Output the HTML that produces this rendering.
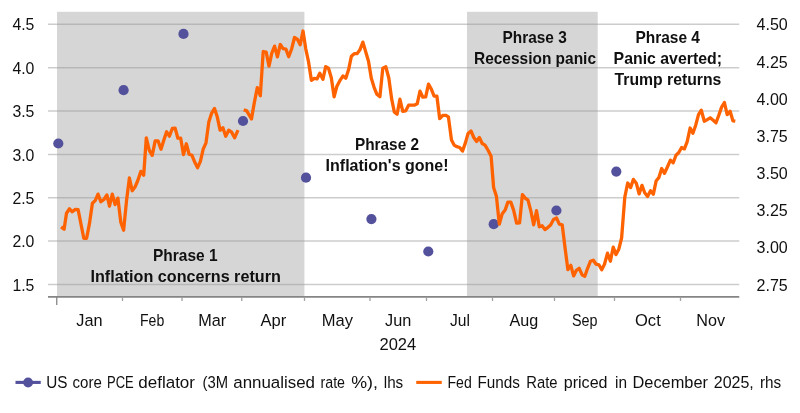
<!DOCTYPE html>
<html lang="en">
<head>
<meta charset="utf-8">
<title>Fed Funds pricing vs core PCE</title>
<style>
html,body{margin:0;padding:0;background:#fff;}
body{width:800px;height:413px;overflow:hidden;}
svg{display:block;}
svg text{font-family:"Liberation Sans",sans-serif;fill:#101010;}
.b{font-weight:bold;}
</style>
</head>
<body>
<svg width="800" height="413" viewBox="0 0 800 413">
<rect width="800" height="413" fill="#ffffff"/>
<line x1="48" x2="739.25" y1="24.30" y2="24.30" stroke="#000" stroke-opacity="0.2" stroke-width="1.5"/>
<line x1="48" x2="739.25" y1="67.66" y2="67.66" stroke="#000" stroke-opacity="0.2" stroke-width="1.5"/>
<line x1="48" x2="739.25" y1="111.02" y2="111.02" stroke="#000" stroke-opacity="0.2" stroke-width="1.5"/>
<line x1="48" x2="739.25" y1="154.38" y2="154.38" stroke="#000" stroke-opacity="0.2" stroke-width="1.5"/>
<line x1="48" x2="739.25" y1="197.74" y2="197.74" stroke="#000" stroke-opacity="0.2" stroke-width="1.5"/>
<line x1="48" x2="739.25" y1="241.10" y2="241.10" stroke="#000" stroke-opacity="0.2" stroke-width="1.5"/>
<line x1="48" x2="739.25" y1="284.46" y2="284.46" stroke="#000" stroke-opacity="0.2" stroke-width="1.5"/>
<rect x="57.0" y="11.8" width="247.4" height="284.3" fill="#989898" fill-opacity="0.4"/>
<rect x="467" y="11.8" width="130.7" height="284.3" fill="#989898" fill-opacity="0.4"/>
<line x1="48" x2="739.25" y1="296.9" y2="296.9" stroke="#858585" stroke-width="1.6"/>
<line x1="56.75" x2="56.75" y1="296.9" y2="305.1" stroke="#858585" stroke-width="1.3"/>
<line x1="122.5" x2="122.5" y1="296.9" y2="300.9" stroke="#a0a0a0" stroke-width="1.3"/>
<line x1="182" x2="182" y1="296.9" y2="300.9" stroke="#a0a0a0" stroke-width="1.3"/>
<line x1="241.75" x2="241.75" y1="296.9" y2="300.9" stroke="#a0a0a0" stroke-width="1.3"/>
<line x1="304.5" x2="304.5" y1="296.9" y2="300.9" stroke="#a0a0a0" stroke-width="1.3"/>
<line x1="370" x2="370" y1="296.9" y2="300.9" stroke="#a0a0a0" stroke-width="1.3"/>
<line x1="426.5" x2="426.5" y1="296.9" y2="300.9" stroke="#a0a0a0" stroke-width="1.3"/>
<line x1="492.5" x2="492.5" y1="296.9" y2="300.9" stroke="#a0a0a0" stroke-width="1.3"/>
<line x1="554.5" x2="554.5" y1="296.9" y2="300.9" stroke="#a0a0a0" stroke-width="1.3"/>
<line x1="614.5" x2="614.5" y1="296.9" y2="300.9" stroke="#a0a0a0" stroke-width="1.3"/>
<line x1="680.5" x2="680.5" y1="296.9" y2="300.9" stroke="#a0a0a0" stroke-width="1.3"/>
<text x="34.4" y="30.4" font-size="16.5" text-anchor="end" textLength="22" lengthAdjust="spacingAndGlyphs">4.5</text>
<text x="34.4" y="73.8" font-size="16.5" text-anchor="end" textLength="22" lengthAdjust="spacingAndGlyphs">4.0</text>
<text x="34.4" y="117.1" font-size="16.5" text-anchor="end" textLength="22" lengthAdjust="spacingAndGlyphs">3.5</text>
<text x="34.4" y="160.5" font-size="16.5" text-anchor="end" textLength="22" lengthAdjust="spacingAndGlyphs">3.0</text>
<text x="34.4" y="203.8" font-size="16.5" text-anchor="end" textLength="22" lengthAdjust="spacingAndGlyphs">2.5</text>
<text x="34.4" y="247.2" font-size="16.5" text-anchor="end" textLength="22" lengthAdjust="spacingAndGlyphs">2.0</text>
<text x="34.4" y="290.6" font-size="16.5" text-anchor="end" textLength="22" lengthAdjust="spacingAndGlyphs">1.5</text>
<text x="756.6" y="30.4" font-size="16.5" textLength="31.2" lengthAdjust="spacingAndGlyphs">4.50</text>
<text x="756.6" y="67.6" font-size="16.5" textLength="31.2" lengthAdjust="spacingAndGlyphs">4.25</text>
<text x="756.6" y="104.7" font-size="16.5" textLength="31.2" lengthAdjust="spacingAndGlyphs">4.00</text>
<text x="756.6" y="141.9" font-size="16.5" textLength="31.2" lengthAdjust="spacingAndGlyphs">3.75</text>
<text x="756.6" y="179.1" font-size="16.5" textLength="31.2" lengthAdjust="spacingAndGlyphs">3.50</text>
<text x="756.6" y="216.2" font-size="16.5" textLength="31.2" lengthAdjust="spacingAndGlyphs">3.25</text>
<text x="756.6" y="253.4" font-size="16.5" textLength="31.2" lengthAdjust="spacingAndGlyphs">3.00</text>
<text x="756.6" y="290.6" font-size="16.5" textLength="31.2" lengthAdjust="spacingAndGlyphs">2.75</text>
<text x="76.25" y="325.7" font-size="17.2" textLength="26.25" lengthAdjust="spacingAndGlyphs">Jan</text>
<text x="140" y="325.7" font-size="17.2" textLength="24.25" lengthAdjust="spacingAndGlyphs">Feb</text>
<text x="198.25" y="325.7" font-size="17.2" textLength="28.0" lengthAdjust="spacingAndGlyphs">Mar</text>
<text x="260.5" y="325.7" font-size="17.2" textLength="25.75" lengthAdjust="spacingAndGlyphs">Apr</text>
<text x="321.75" y="325.7" font-size="17.2" textLength="31.25" lengthAdjust="spacingAndGlyphs">May</text>
<text x="385" y="325.7" font-size="17.2" textLength="26.25" lengthAdjust="spacingAndGlyphs">Jun</text>
<text x="450" y="325.7" font-size="17.2" textLength="20" lengthAdjust="spacingAndGlyphs">Jul</text>
<text x="509.5" y="325.7" font-size="17.2" textLength="28.75" lengthAdjust="spacingAndGlyphs">Aug</text>
<text x="572" y="325.7" font-size="17.2" textLength="25.5" lengthAdjust="spacingAndGlyphs">Sep</text>
<text x="635" y="325.7" font-size="17.2" textLength="25.75" lengthAdjust="spacingAndGlyphs">Oct</text>
<text x="696.25" y="325.7" font-size="17.2" textLength="28.75" lengthAdjust="spacingAndGlyphs">Nov</text>
<text x="379.5" y="349.5" font-size="16.5" textLength="36.75" lengthAdjust="spacingAndGlyphs">2024</text>
<circle cx="58.3" cy="143.5" r="5.1" fill="#53509c"/>
<circle cx="123.6" cy="90.2" r="5.1" fill="#53509c"/>
<circle cx="183.5" cy="33.9" r="5.1" fill="#53509c"/>
<circle cx="243.0" cy="121.0" r="5.1" fill="#53509c"/>
<circle cx="306.0" cy="177.7" r="5.1" fill="#53509c"/>
<circle cx="371.4" cy="219.1" r="5.1" fill="#53509c"/>
<circle cx="428.3" cy="251.5" r="5.1" fill="#53509c"/>
<circle cx="493.7" cy="224.2" r="5.1" fill="#53509c"/>
<circle cx="556.4" cy="210.5" r="5.1" fill="#53509c"/>
<circle cx="616.3" cy="171.6" r="5.1" fill="#53509c"/>
<polyline points="61.1,226.9 64.1,229.3 66.5,213.2 69.5,208.8 72.3,211.8 75.1,209.4 78.1,209.6 81.2,225.3 83.8,238.3 86.6,238.3 89.4,223.9 92.4,203.2 95.2,200.6 98.0,194.1 100.9,201.8 103.9,199.5 106.9,194.9 109.5,206.2 112.3,194.1 115.1,204.6 117.9,198.1 120.8,222.3 123.6,230.3 126.6,200.2 129.4,178.0 132.2,190.7 135.0,187.1 137.8,180.5 140.9,171.4 143.7,175.2 146.3,137.8 149.3,150.3 152.2,155.3 155.2,140.8 158.0,140.8 161.0,149.2 163.8,140.2 166.6,131.8 169.4,136.2 172.3,128.5 175.1,128.1 177.9,138.2 180.7,138.2 183.5,154.7 186.3,143.8 189.1,154.3 192.0,155.3 194.8,162.3 197.6,167.7 200.4,161.3 203.2,149.2 206.0,142.8 208.8,122.1 211.7,113.1 214.5,108.4 217.3,117.1 220.1,130.2 222.9,127.7 225.7,136.2 228.7,130.2 231.6,132.2 234.6,137.8 238.0,130.2" fill="none" stroke="#ff6200" stroke-width="3.3" stroke-linejoin="round" stroke-linecap="butt"/>
<polyline points="243.7,109.7 246.7,110.9 249.1,114.9 251.5,118.9 254.3,102.7 257.3,87.6 260.3,95.8 263.2,51.5 266.2,52.1 269.0,66.2 271.8,53.1 274.6,46.1 277.4,56.8 280.3,44.5 283.1,48.7 285.9,49.1 288.7,56.8 291.7,48.7 294.5,37.5 297.3,39.1 300.2,44.7 303.0,31.0 305.8,49.1 308.6,62.2 311.4,80.3 314.2,78.3 317.0,78.9 319.8,73.2 322.9,79.3 325.7,66.6 328.5,68.2 331.3,77.7 334.1,96.8 336.9,86.3 339.7,80.9 343.0,75.9 345.8,78.3 348.6,69.6 351.4,56.2 354.2,53.7 357.0,53.7 359.8,50.1 362.9,42.1 365.7,51.7 368.5,61.2 371.3,78.3 374.1,87.3 376.9,94.3 379.9,96.8 382.8,68.2 385.8,66.8 388.8,78.0 391.7,99.2 394.3,111.9 397.1,114.3 399.9,99.2 402.8,111.3 405.6,110.9 408.6,105.2 411.4,105.2 414.2,105.2 417.2,103.8 420.0,91.2 422.9,97.2 425.7,96.8 428.5,84.1 431.3,89.1 434.1,96.2 436.9,96.2 439.7,118.7 442.8,115.3 445.6,115.3 448.4,116.9 451.5,140.1 454.1,145.1 456.9,146.7 459.7,147.5 462.5,151.1 465.3,143.1 468.1,133.4 471.0,131.0 473.8,137.5 476.6,141.5 479.4,137.5 482.2,143.5 485.0,145.1 488.2,150.5 491.1,156.2 493.6,187.5 496.4,196.2 499.3,224.2 502.1,214.1 505.1,210.1 507.9,202.1 510.8,202.1 513.6,210.1 516.6,223.2 519.6,222.8 522.4,194.6 525.2,198.1 528.0,200.1 530.9,211.1 533.7,224.8 536.5,210.7 539.3,226.8 542.1,225.8 544.9,229.6 547.7,227.6 550.6,225.0 553.5,219.5 556.5,218.0 559.3,224.1 562.2,224.8 565.1,248.2 567.9,269.7 570.8,265.3 573.6,275.9 576.4,270.3 579.2,268.3 582.0,274.7 584.8,276.3 587.6,268.3 590.5,261.2 593.3,260.2 596.1,264.2 598.9,264.8 601.7,269.7 604.5,264.2 607.5,253.2 610.4,261.2 613.2,247.2 616.0,254.6 618.8,249.2 621.6,238.0 624.8,197.1 627.7,183.0 630.6,187.6 633.4,179.4 636.3,183.2 639.1,193.9 642.0,185.4 644.7,192.7 647.6,196.4 650.5,190.8 653.3,194.3 656.1,181.1 658.9,177.5 661.7,168.5 664.5,173.3 667.3,167.2 670.4,160.1 673.2,162.8 676.0,155.2 678.8,152.5 681.6,147.5 684.4,148.9 687.2,141.7 690.1,128.0 692.9,133.2 695.7,125.2 698.5,114.6 701.3,110.2 704.3,121.2 707.3,119.6 710.2,117.8 713.2,120.2 716.0,122.8 718.8,115.2 721.6,107.1 724.4,102.5 727.2,114.6 730.1,111.2 732.9,120.8 735.3,121.2" fill="none" stroke="#ff6200" stroke-width="3.3" stroke-linejoin="round" stroke-linecap="butt"/>
<text class="b" x="153" y="261.2" font-size="16.5" textLength="64.5" lengthAdjust="spacingAndGlyphs">Phrase 1</text>
<text class="b" x="90.5" y="282.2" font-size="16.5" textLength="190.3" lengthAdjust="spacingAndGlyphs">Inflation concerns return</text>
<text class="b" x="355" y="149.6" font-size="16.5" textLength="64.0" lengthAdjust="spacingAndGlyphs">Phrase 2</text>
<text class="b" x="325.6" y="171" font-size="16.5" textLength="123.0" lengthAdjust="spacingAndGlyphs">Inflation&#39;s gone!</text>
<text class="b" x="502.5" y="42.8" font-size="16.5" textLength="64.2" lengthAdjust="spacingAndGlyphs">Phrase 3</text>
<text class="b" x="474" y="64" font-size="16.5" textLength="122.0" lengthAdjust="spacingAndGlyphs">Recession panic</text>
<text class="b" x="635.4" y="42.7" font-size="16.5" textLength="64.5" lengthAdjust="spacingAndGlyphs">Phrase 4</text>
<text class="b" x="613.6" y="64.1" font-size="16.5" textLength="108.4" lengthAdjust="spacingAndGlyphs">Panic averted;</text>
<text class="b" x="614.5" y="85" font-size="16.5" textLength="106.8" lengthAdjust="spacingAndGlyphs">Trump returns</text>
<line x1="15.5" x2="40.75" y1="382.4" y2="382.4" stroke="#53509c" stroke-width="3.1"/>
<circle cx="28.1" cy="382.5" r="4.9" fill="#53509c"/>
<text y="388.3" font-size="17.2"><tspan x="46.25" textLength="21.25" lengthAdjust="spacingAndGlyphs">US</tspan> <tspan x="72.5" textLength="29.25" lengthAdjust="spacingAndGlyphs">core</tspan> <tspan x="107" textLength="26.75" lengthAdjust="spacingAndGlyphs">PCE</tspan> <tspan x="138.25" textLength="56.75" lengthAdjust="spacingAndGlyphs">deflator</tspan> <tspan x="202.5" textLength="25.50" lengthAdjust="spacingAndGlyphs">(3M</tspan> <tspan x="233.25" textLength="81.75" lengthAdjust="spacingAndGlyphs">annualised</tspan> <tspan x="320.5" textLength="24.50" lengthAdjust="spacingAndGlyphs">rate</tspan> <tspan x="351.25" textLength="26.75" lengthAdjust="spacingAndGlyphs">%),</tspan> <tspan x="383.75" textLength="19.50" lengthAdjust="spacingAndGlyphs">lhs</tspan></text>
<line x1="416.25" x2="441.75" y1="382.4" y2="382.4" stroke="#ff6200" stroke-width="3.1"/>
<text y="388.3" font-size="17.2"><tspan x="447.5" textLength="24.25" lengthAdjust="spacingAndGlyphs">Fed</tspan> <tspan x="477.5" textLength="42.50" lengthAdjust="spacingAndGlyphs">Funds</tspan> <tspan x="526.25" textLength="31.25" lengthAdjust="spacingAndGlyphs">Rate</tspan> <tspan x="563.75" textLength="43.75" lengthAdjust="spacingAndGlyphs">priced</tspan> <tspan x="615" textLength="12.00" lengthAdjust="spacingAndGlyphs">in</tspan> <tspan x="632.5" textLength="75.50" lengthAdjust="spacingAndGlyphs">December</tspan> <tspan x="713.75" textLength="40.00" lengthAdjust="spacingAndGlyphs">2025,</tspan> <tspan x="760" textLength="21.25" lengthAdjust="spacingAndGlyphs">rhs</tspan></text>
</svg>
</body>
</html>
